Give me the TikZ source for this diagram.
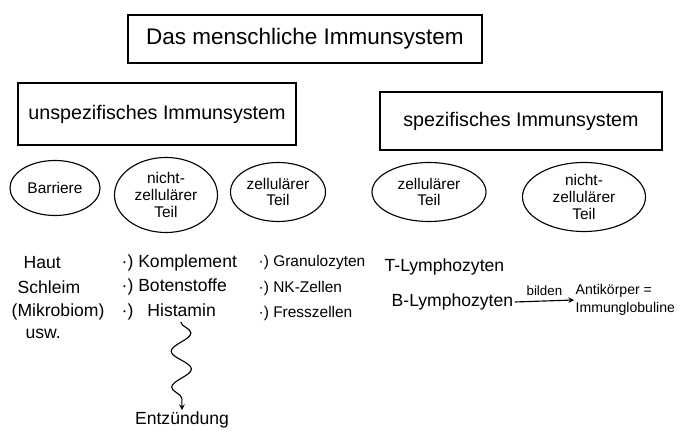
\documentclass[tikz,border=0pt]{standalone}
\usepackage{fontspec}
\setmainfont{Liberation Sans}
\usetikzlibrary{shapes.geometric, arrows, decorations.pathmorphing}
\tikzstyle{headbox} = [rectangle, draw=black, thick, minimum width=8.85cm,
minimum height=1.2cm, text centered, font=\fontsize{16}{19}\selectfont]
\tikzstyle{branch} = [rectangle, draw=black, thick, minimum height=1.45cm,
text centered, font=\fontsize{14}{17}\selectfont]
\tikzstyle{part} = [ellipse, draw=black, thick, align=center, inner sep=1pt,
font=\fontsize{11}{12}\selectfont]
\tikzstyle{entry} = [anchor=west, inner sep=1pt, font=\fontsize{12.5}{15}\selectfont]
\tikzstyle{arrow} = [thick,->,>=stealth]

\begin{document}
\begin{tikzpicture}[x=0.025cm, y=-0.025cm]
  \useasboundingbox (0,0) rectangle (686,444);

  \node (title) [headbox] at (305,39) {Das menschliche Immunsystem};
  \node (unspez) [branch, minimum width=6.95cm, minimum height=1.55cm] at (157,114) {unspezifisches Immunsystem};
  \node (spez) [branch, minimum width=7.05cm] at (521,121) {spezifisches Immunsystem};

  \node (barr) [part, minimum width=2.25cm, minimum height=1.375cm] at (55,188) {Barriere};
  \node (unz) [part, minimum width=2.575cm, minimum height=1.875cm] at (166,195) {nicht-\\zellulärer\\Teil};
  \node (uz) [part, minimum width=2.375cm, minimum height=1.475cm] at (278,192) {zellulärer\\Teil};
  \node (sz) [part, minimum width=2.85cm, minimum height=1.475cm] at (429,192) {zellulärer\\Teil};
  \node (snz) [part, minimum width=3.075cm, minimum height=1.725cm] at (584,197) {nicht-\\zellulärer\\Teil};

  % Barriere
  \node (haut) [entry] at (22,263) {Haut};
  \node (schleim) [entry] at (16,287) {Schleim};
  \node (mikro) [entry] at (10,312) {(Mikrobiom)};
  \node (usw) [entry] at (24,334) {usw.};

  % nicht-zellulaer
  \node (kompl) [entry] at (120,263) {·) Komplement};
  \node (boten) [entry] at (120,287) {·) Botenstoffe};
  \node (hist) [entry] at (120,312) {·)\hspace{0.8em}Histamin};
  \node (entz) [entry, anchor=center] at (182,420) {Entzündung};

  % zellulaer
  \node (granu) [entry, font=\fontsize{11}{13}\selectfont] at (257,263) {·) Granulozyten};
  \node (nk) [entry, font=\fontsize{11}{13}\selectfont] at (257,289) {·) NK-Zellen};
  \node (fress) [entry, font=\fontsize{11}{13}\selectfont] at (257,314) {·) Fresszellen};

  % spezifisch
  \node (tly) [entry] at (383,267) {T-Lymphozyten};
  \node (bly) [entry] at (390,302) {B-Lymphozyten};
  \node (ak) [entry, align=left, font=\fontsize{10}{13}\selectfont] at (574,300) {Antikörper =\\Immunglobuline};

  \draw [arrow] (bly.east) -- node[anchor=south, font=\fontsize{9.5}{11}\selectfont] {bilden} (ak.west);
  \draw [arrow, decorate, decoration={snake, amplitude=2.5mm, segment length=9mm, post length=2mm}]
    ([xshift=0.3cm]hist.south) -- (entz.north);

\end{tikzpicture}
\end{document}
